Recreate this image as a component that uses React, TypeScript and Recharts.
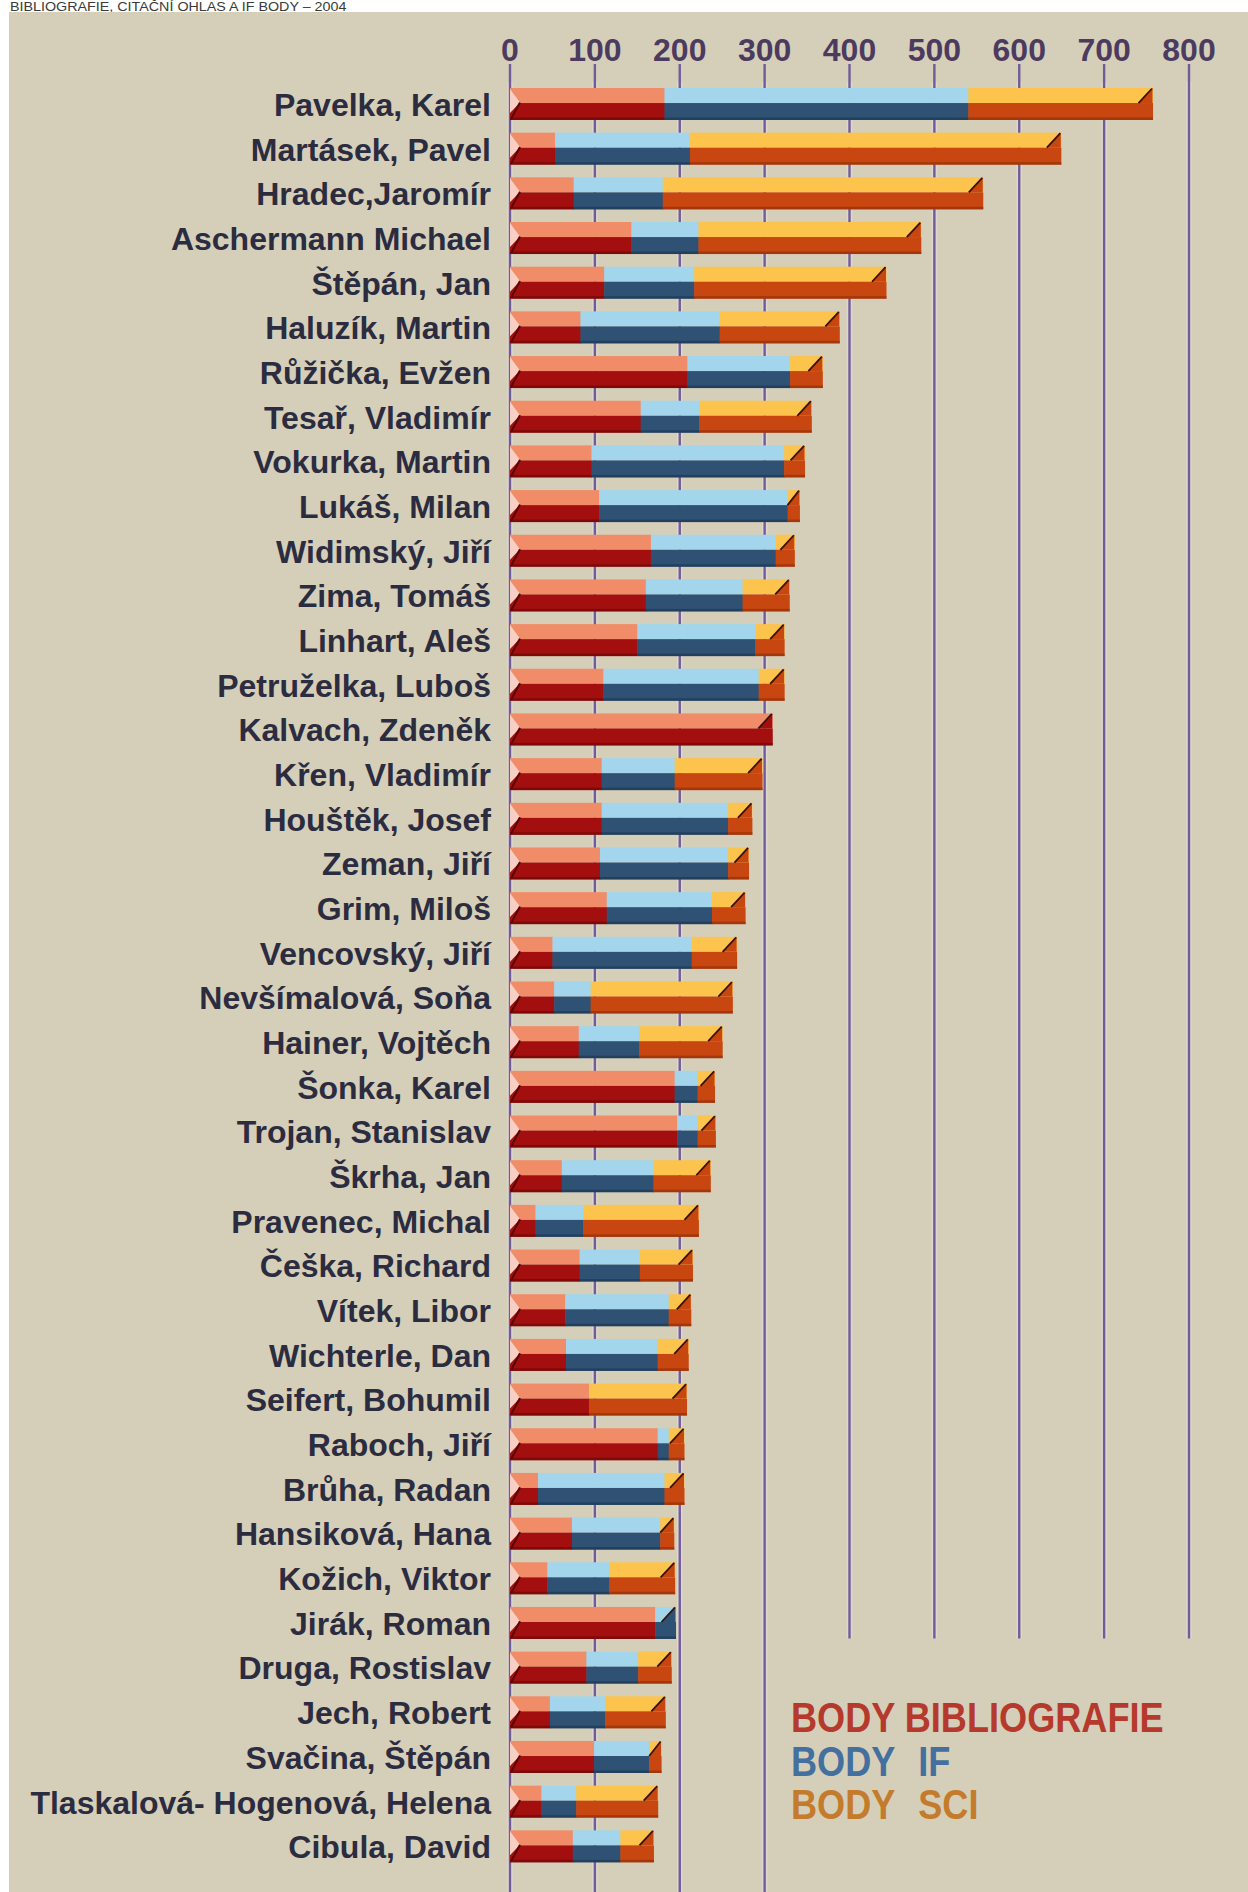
import React from 'react';
import { BarChart, Bar, XAxis, YAxis, CartesianGrid } from 'recharts';

const names = [
  'Pavelka, Karel', 'Martásek, Pavel', 'Hradec,Jaromír', 'Aschermann Michael', 'Štěpán, Jan',
  'Haluzík, Martin', 'Růžička, Evžen', 'Tesař, Vladimír', 'Vokurka, Martin', 'Lukáš, Milan',
  'Widimský, Jiří', 'Zima, Tomáš', 'Linhart, Aleš', 'Petruželka, Luboš', 'Kalvach, Zdeněk',
  'Křen, Vladimír', 'Houštěk, Josef', 'Zeman, Jiří', 'Grim, Miloš', 'Vencovský, Jiří',
  'Nevšímalová, Soňa', 'Hainer, Vojtěch', 'Šonka, Karel', 'Trojan, Stanislav', 'Škrha, Jan',
  'Pravenec, Michal', 'Češka, Richard', 'Vítek, Libor', 'Wichterle, Dan', 'Seifert, Bohumil',
  'Raboch, Jiří', 'Brůha, Radan', 'Hansiková, Hana', 'Kožich, Viktor', 'Jirák, Roman',
  'Druga, Rostislav', 'Jech, Robert', 'Svačina, Štěpán', 'Tlaskalová- Hogenová, Helena', 'Cibula, David',
];

const bodyBibliografie = [
  182, 53, 75, 143, 111, 83, 209, 154, 96, 105,
  166, 160, 150, 110, 309, 108, 108, 106, 114, 50,
  52, 81, 194, 197, 61, 30, 82, 65, 66, 93,
  174, 33, 73, 44, 171, 90, 47, 99, 37, 74,
];
const bodyIF = [
  358, 159, 105, 79, 106, 164, 121, 69, 227, 222,
  147, 114, 139, 183, 0, 86, 149, 151, 124, 164,
  43, 71, 27, 24, 108, 56, 71, 122, 108, 0,
  13, 149, 104, 73, 24, 61, 65, 65, 41, 56,
];
const bodySCI = [
  217, 437, 377, 262, 226, 141, 38, 132, 24, 14,
  22, 55, 34, 30, 0, 103, 28, 24, 39, 53,
  167, 98, 20, 21, 67, 136, 62, 26, 36, 115,
  18, 23, 16, 77, 0, 39, 71, 14, 96, 39,
];
const xTicks = [0, 100, 200, 300, 400, 500, 600, 700, 800];

const rows = names.map((name, i) => ({
  name,
  bib: bodyBibliografie[i],
  if: bodyIF[i],
  sci: bodySCI[i],
}));

const BG = '#d5cfb9';
const GRID = '#6f5c98';
const TICK_TXT = '#4c3b5e';
const NAME_TXT = '#2c2c40';
const FONT = '"Liberation Sans", Arial, sans-serif';

const COLORS = {
  bib: { light: '#f08d68', dark: '#a30f0f', shadow: '#650505' },
  if: { light: '#a3d6ec', dark: '#2f5274', shadow: '#1b3350' },
  sci: { light: '#fcc34d', dark: '#c8460f', shadow: '#8a2c06' },
};

type Key = 'bib' | 'if' | 'sci';

const makeShape = (key: Key) => (props: any) => {
  const { x, y, width, height, payload } = props;
  if (!width || width <= 0.5) return <g />;
  const c = COLORS[key];
  const isFirst = key === 'bib';
  const isLast =
    key === 'sci' ||
    (key === 'if' && !payload.sci) ||
    (key === 'bib' && !payload.if && !payload.sci);
  const mid = y + height * 0.47;
  const bottom = y + height;
  const right = x + width;
  const d = Math.min(14, width);
  return (
    <g>
      <rect x={x} y={y} width={width + 0.5} height={mid - y} fill={c.light} />
      <rect x={x} y={mid} width={width + 0.5} height={bottom - mid} fill={c.dark} />
      <rect x={x} y={bottom - 2.5} width={width + 0.5} height={2.5} fill={c.shadow} opacity={0.6} />
      {isFirst && (
        <g>
          <polygon
            points={`${x},${y + 1} ${x + 10},${y + height * 0.45} ${x},${y + height * 0.78}`}
            fill="#f7cfc4"
          />
          <line x1={x + 10} y1={y + height * 0.45} x2={x + 1} y2={bottom - 1} stroke="#5a0606" strokeWidth={2} />
        </g>
      )}
      {isLast && (
        <g>
          <polygon points={`${right - d},${mid} ${right},${y} ${right},${mid}`} fill={c.dark} />
          <line x1={right - d} y1={mid} x2={right - 0.5} y2={y + 0.5} stroke="#3a1204" strokeWidth={1.8} />
        </g>
      )}
    </g>
  );
};

const GRID_CUT = 0.871;

const gridLine = (p: any) => {
  const v = xTicks[p.index];
  const y2 = v >= 400 ? p.y1 + (p.y2 - p.y1) * GRID_CUT : p.y2 + 24;
  return (
    <g key={`gl-${p.index}`}>
      <line x1={p.x1} x2={p.x2} y1={p.y1} y2={y2} stroke="#e6e0e6" strokeOpacity={0.45} strokeWidth={5.5} />
      <line x1={p.x1} x2={p.x2} y1={p.y1} y2={y2} stroke={GRID} strokeWidth={2.4} />
    </g>
  );
};

const NameTick = (props: any) => {
  const { x, y, payload } = props;
  return (
    <text
      x={x}
      y={y}
      dy="0.36em"
      textAnchor="end"
      fontFamily={FONT}
      fontWeight={700}
      fontSize={32}
      fill={NAME_TXT}
    >
      {payload.value}
    </text>
  );
};

const legendItems = [
  { label: 'BODY', word: 'BIBLIOGRAFIE', color: '#b5392d', pad: false },
  { label: 'BODY', word: 'IF', color: '#43709e', pad: true },
  { label: 'BODY', word: 'SCI', color: '#c47b2b', pad: true },
];

export default function App() {
  return (
    <div
      style={{
        position: 'absolute',
        left: 0,
        top: 0,
        width: 1248,
        height: 1892,
        background: '#ffffff',
        overflow: 'hidden',
      }}
    >
      <div
        style={{
          position: 'absolute',
          left: 10,
          top: 0,
          fontFamily: FONT,
          fontSize: 13,
          lineHeight: '13px',
          color: '#3a3a3a',
          whiteSpace: 'nowrap',
          transform: 'scaleX(1.1)',
          transformOrigin: 'left top',
        }}
      >
        BIBLIOGRAFIE, CITAČNÍ OHLAS A IF BODY – 2004
      </div>
      <div
        style={{
          position: 'absolute',
          left: 9,
          top: 12,
          width: 1239,
          height: 1880,
          background: BG,
        }}
      />
      <div style={{ position: 'absolute', left: 0, top: 0 }}>
        <BarChart
          width={1248}
          height={1892}
          data={rows}
          layout="vertical"
          margin={{ top: 0, right: 59, bottom: 23, left: 0 }}
          barSize={32}
        >
          <CartesianGrid horizontal={false} vertical={gridLine} />
          <XAxis
            type="number"
            orientation="top"
            domain={[0, 800]}
            ticks={xTicks}
            interval={0}
            height={82}
            axisLine={false}
            tickSize={18}
            tickMargin={3}
            tickLine={{ stroke: GRID, strokeWidth: 2.4 }}
            tick={{ fill: TICK_TXT, fontSize: 32, fontWeight: 700, fontFamily: FONT }}
          />
          <YAxis
            type="category"
            dataKey="name"
            width={510}
            interval={0}
            axisLine={false}
            tickLine={false}
            tickSize={0}
            tickMargin={19}
            tick={<NameTick />}
          />
          <Bar dataKey="bib" stackId="s" shape={makeShape('bib')} isAnimationActive={false} />
          <Bar dataKey="if" stackId="s" shape={makeShape('if')} isAnimationActive={false} />
          <Bar dataKey="sci" stackId="s" shape={makeShape('sci')} isAnimationActive={false} />
        </BarChart>
      </div>
      <div
        style={{
          position: 'absolute',
          left: 791,
          top: 1696,
          fontFamily: FONT,
          fontWeight: 700,
          fontSize: 42,
          lineHeight: '43.5px',
          whiteSpace: 'nowrap',
          transform: 'scaleX(0.86)',
          transformOrigin: 'left top',
        }}
      >
        {legendItems.map((it) => (
          <div key={it.word} style={{ color: it.color, height: 43.5 }}>
            {it.pad ? (
              <>
                <span style={{ display: 'inline-block', width: 148 }}>{it.label}</span>
                {it.word}
              </>
            ) : (
              `${it.label} ${it.word}`
            )}
          </div>
        ))}
      </div>
    </div>
  );
}
